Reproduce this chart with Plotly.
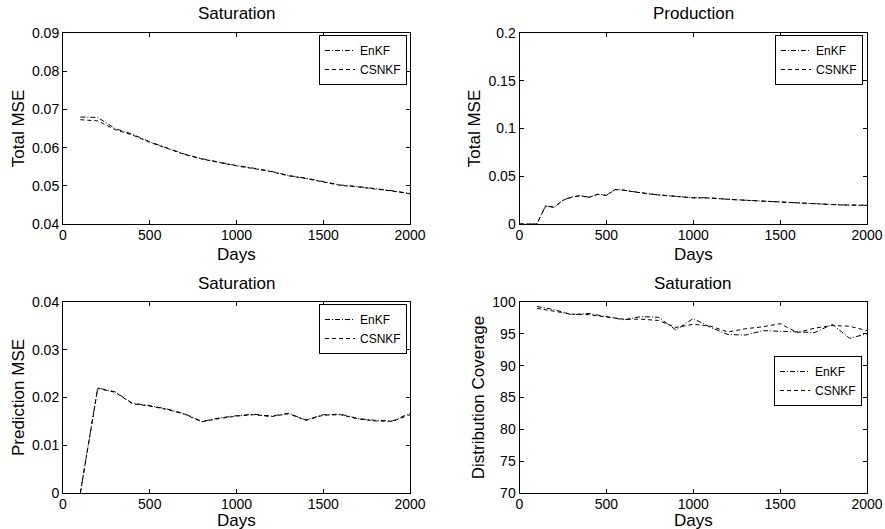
import plotly.graph_objects as go
from plotly.subplots import make_subplots

# ---------------- data ----------------
days_100 = [100, 200, 300, 400, 500, 600, 700, 800, 900, 1000,
            1100, 1200, 1300, 1400, 1500, 1600, 1700, 1800, 1900, 2000]

sat_total_enkf = [0.0680, 0.0679, 0.0650, 0.0635, 0.0615, 0.0598, 0.0583, 0.0571, 0.0562, 0.0553,
                  0.0546, 0.0538, 0.0527, 0.0520, 0.0511, 0.0502, 0.0498, 0.0493, 0.0487, 0.0480]
sat_total_csnkf = [0.0673, 0.0670, 0.0647, 0.0633, 0.0614, 0.0597, 0.0582, 0.0570, 0.0561, 0.0552,
                   0.0545, 0.0537, 0.0526, 0.0519, 0.0510, 0.0501, 0.0497, 0.0492, 0.0486, 0.0479]

days_50 = [0, 50, 100, 150, 200, 250, 300, 350, 400, 450, 500, 550, 600, 650, 700, 750, 800,
           850, 900, 950, 1000, 1050, 1100, 1150, 1200, 1250, 1300, 1350, 1400, 1450, 1500,
           1550, 1600, 1650, 1700, 1750, 1800, 1850, 1900, 1950, 2000]
prod_total_enkf = [0, 0, 0, 0.0190, 0.0176, 0.0250, 0.0282, 0.0298, 0.0280, 0.0312, 0.0300,
                   0.0362, 0.0355, 0.0340, 0.0325, 0.0315, 0.0305, 0.0300, 0.0290, 0.0282,
                   0.0275, 0.0276, 0.0273, 0.0266, 0.0258, 0.0255, 0.0250, 0.0245, 0.0240,
                   0.0235, 0.0230, 0.0225, 0.0222, 0.0218, 0.0213, 0.0208, 0.0203, 0.0200,
                   0.0199, 0.0198, 0.0196]
prod_total_csnkf = [0, 0, 0, 0.0188, 0.0175, 0.0248, 0.0280, 0.0296, 0.0279, 0.0310, 0.0299,
                    0.0360, 0.0354, 0.0339, 0.0324, 0.0314, 0.0304, 0.0299, 0.0289, 0.0281,
                    0.0274, 0.0275, 0.0272, 0.0265, 0.0257, 0.0254, 0.0249, 0.0244, 0.0239,
                    0.0234, 0.0229, 0.0224, 0.0221, 0.0217, 0.0212, 0.0207, 0.0202, 0.0199,
                    0.0198, 0.0197, 0.0195]

sat_pred_enkf = [0.0, 0.0220, 0.0212, 0.0188, 0.0183, 0.0176, 0.0166, 0.0150, 0.0157, 0.0162,
                 0.0165, 0.0161, 0.0167, 0.0153, 0.0164, 0.0165, 0.0156, 0.0152, 0.0151, 0.0167]
sat_pred_csnkf = [0.0, 0.0219, 0.0211, 0.0187, 0.0182, 0.0175, 0.0165, 0.0149, 0.0156, 0.0161,
                  0.0164, 0.0160, 0.0166, 0.0152, 0.0163, 0.0164, 0.0155, 0.0151, 0.0150, 0.0164]

cov_enkf = [99.3, 98.8, 98.0, 98.2, 97.7, 97.2, 97.7, 97.6, 95.6, 97.4,
            96.0, 94.9, 94.8, 95.5, 95.4, 95.3, 95.2, 96.5, 94.3, 95.0]
cov_csnkf = [99.0, 98.5, 98.1, 98.0, 97.6, 97.3, 97.3, 97.1, 96.0, 96.5,
             96.2, 95.3, 95.8, 96.1, 96.6, 95.2, 95.9, 96.3, 96.2, 95.5]

titles = ["Saturation", "Production", "Saturation", "Saturation"]
ylabels = ["Total MSE", "Total MSE", "Prediction MSE", "Distribution Coverage"]
xlabel = "Days"
series_names = ["EnKF", "CSNKF"]

# ---------------- figure ----------------
FONT = "Liberation Sans, Arial, sans-serif"
W, H = 885, 529
ml, mr, mt, mb = 63, 18, 33, 36
pw = W - ml - mr
ph = H - mt - mb

fig = make_subplots(rows=2, cols=2)

dash_enkf = "5px,2px,1px,2px"
dash_csnkf = "4px,3px"

panels = [
    (1, 1, days_100, sat_total_enkf, sat_total_csnkf, "legend"),
    (1, 2, days_50, prod_total_enkf, prod_total_csnkf, "legend2"),
    (2, 1, days_100, sat_pred_enkf, sat_pred_csnkf, "legend3"),
    (2, 2, days_100, cov_enkf, cov_csnkf, "legend4"),
]
for r, c, xs, e, s, lg in panels:
    fig.add_trace(go.Scatter(x=xs, y=e, mode="lines", name=series_names[0], legend=lg,
                             line=dict(color="black", width=1, dash=dash_enkf)), row=r, col=c)
    fig.add_trace(go.Scatter(x=xs, y=s, mode="lines", name=series_names[1], legend=lg,
                             line=dict(color="black", width=1, dash=dash_csnkf)), row=r, col=c)

x_left = [0, 347 / pw]
x_right = [(519.5 - ml) / pw, 1]
y_top = [(493 - 224) / ph, 1]
y_bot = [0, (493 - 302) / ph]

axis_common = dict(showline=True, linecolor="black", linewidth=1, mirror="ticks",
                   ticks="inside", ticklen=4, tickcolor="black", showgrid=False,
                   zeroline=False, tickfont=dict(family=FONT, size=14, color="black"),
                   title_font=dict(family=FONT, size=17, color="black"))

yranges = [[0.04, 0.09], [0, 0.2], [0, 0.04], [70, 100]]
ydticks = [0.01, 0.05, 0.01, 5]
yfmt = [".2f", None, None, None]
xdoms = [x_left, x_right, x_left, x_right]
ydoms = [y_top, y_top, y_bot, y_bot]

for i in range(4):
    k = "" if i == 0 else str(i + 1)
    fig.layout["xaxis" + k].update(domain=xdoms[i], range=[0, 2000], dtick=500, tick0=0,
                                   ticklabelstandoff=-2, **axis_common)
    yd = dict(domain=ydoms[i], range=yranges[i], dtick=ydticks[i], tick0=0,
              title=dict(text=ylabels[i], standoff=3), **axis_common)
    if yfmt[i]:
        yd["tickformat"] = yfmt[i]
    fig.layout["yaxis" + k].update(**yd)

legend_style = dict(bgcolor="white", bordercolor="black", borderwidth=1,
                    font=dict(family=FONT, size=12, color="black"),
                    xanchor="right", yanchor="top", itemwidth=30, tracegroupgap=0)
fig.update_layout(
    legend=dict(x=(407 - ml) / pw, y=(493 - 35) / ph, **legend_style),
    legend2=dict(x=(863 - ml) / pw, y=(493 - 35) / ph, **legend_style),
    legend3=dict(x=(407 - ml) / pw, y=(493 - 304) / ph, **legend_style),
    legend4=dict(x=(862 - ml) / pw, y=(493 - 356) / ph, **legend_style),
)

cx_left = (x_left[0] + x_left[1]) / 2
cx_right = (x_right[0] + x_right[1]) / 2
title_pos = [(cx_left, (493 - 14) / ph), (cx_right, (493 - 14) / ph),
             (cx_left, (493 - 283) / ph), (cx_right, (493 - 283) / ph)]
for t, (tx, ty) in zip(titles, title_pos):
    fig.add_annotation(text=t, x=tx, y=ty, xref="paper", yref="paper", showarrow=False,
                       xanchor="center", yanchor="middle",
                       font=dict(family=FONT, size=17, color="black"))

# x-axis titles ("Days")
days_pos = [(cx_left, (493 - 254) / ph), (cx_right, (493 - 254) / ph),
            (cx_left, (493 - 520) / ph), (cx_right, (493 - 520) / ph)]
for tx, ty in days_pos:
    fig.add_annotation(text=xlabel, x=tx, y=ty, xref="paper", yref="paper", showarrow=False,
                       xanchor="center", yanchor="middle",
                       font=dict(family=FONT, size=17, color="black"))

fig.update_layout(width=W, height=H, margin=dict(l=ml, r=mr, t=mt, b=mb, autoexpand=False),
                  plot_bgcolor="white", paper_bgcolor="white", showlegend=True,
                  font=dict(family=FONT, color="black"))

fig.write_html("out.html")
